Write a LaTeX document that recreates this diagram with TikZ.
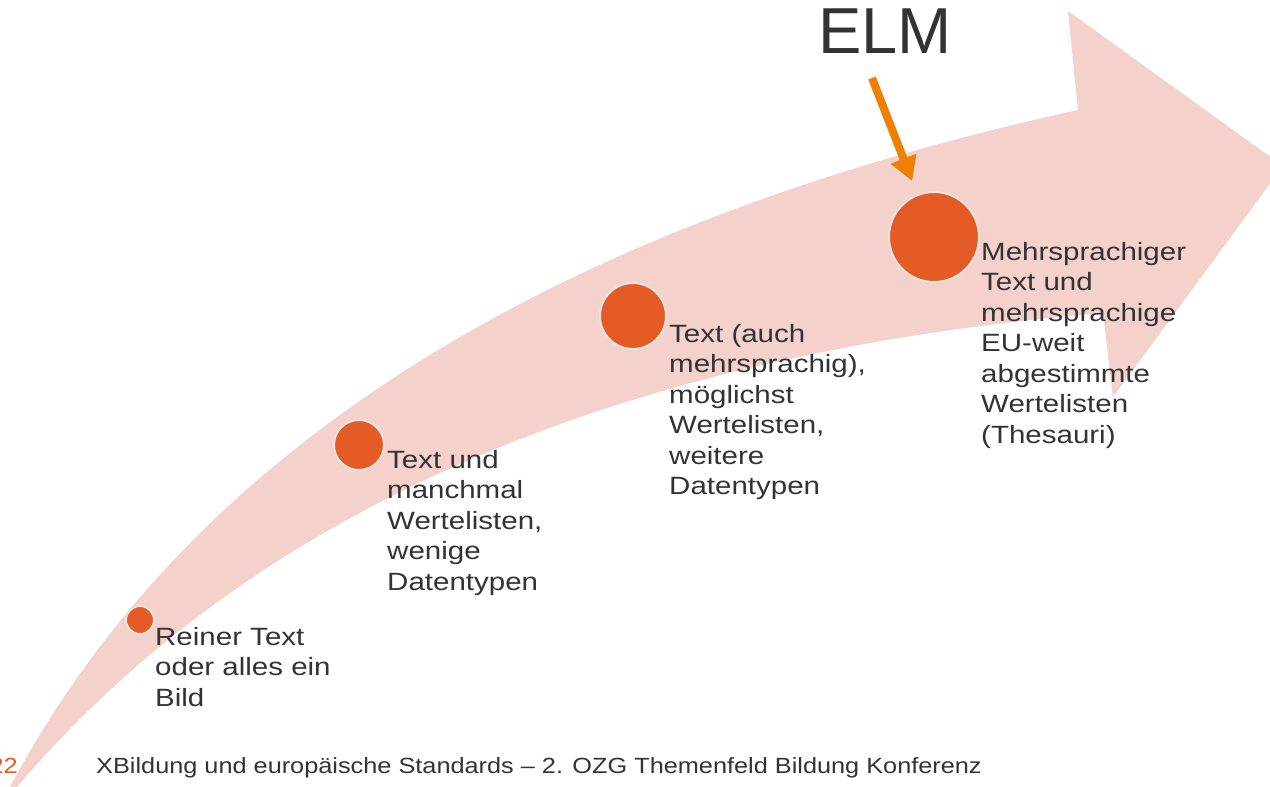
\documentclass[tikz,border=0pt]{standalone}
\usepackage{fontspec}
\setmainfont{Liberation Sans}[FakeStretch=1.15]
\newfontfamily\stagefont{Liberation Sans}[FakeStretch=1.18]
\newfontfamily\elmfont{Liberation Sans}
\usetikzlibrary{arrows.meta}
\definecolor{bandpink}{RGB}{244,209,203}
\definecolor{dotorange}{RGB}{229,91,38}
\definecolor{dotrim}{RGB}{232,228,222}
\definecolor{elmorange}{RGB}{238,127,0}
\definecolor{textgray}{RGB}{51,51,51}

\begin{document}
\begin{tikzpicture}[x=1pt,y=-1pt,
	stage/.style={circle, fill=dotorange, draw=dotrim, line width=2pt, inner sep=0pt},
	stagetext/.style={anchor=base west, align=left, inner sep=0pt, text=textgray, font=\stagefont\fontsize{25}{30.5}\selectfont},
	elmarrow/.style={draw=elmorange, line width=8pt, -{Triangle[length=24pt,width=26pt]}}]
		\useasboundingbox (0,0) rectangle (1270,787);
		
		%band
		\begin{scope}
		\clip (0,0) rectangle (1270,787);
		\fill[bandpink] (10,787) .. controls (188,453) and (544,227) .. (1078,110) -- (1068,11) -- (1283,166) -- (1113,397) -- (1103,313) .. controls (613,354) and (251,512) .. (17,787) -- cycle;
		\end{scope}
		
		%coordinates
		\coordinate (elmtail) at (872,78);
		
		%nodes
		\node[stage, minimum size=28pt] (s1) at (140,620) {};
		\node[stage, minimum size=50pt] (s2) at (359,445) {};
		\node[stage, minimum size=66pt] (s3) at (633,316) {};
		\node[stage, minimum size=90pt] (s4) at (934,237) {};
		
		% base = last line
		\node[stagetext] (t1) at (155,706) {Reiner Text\\oder alles ein\\Bild};
		\node[stagetext] (t2) at (387,590) {Text und\\manchmal\\Wertelisten,\\wenige\\Datentypen};
		\node[stagetext] (t3) at (669,494.5) {Text (auch\\mehrsprachig),\\möglichst\\Wertelisten,\\weitere\\Datentypen};
		\node[stagetext] (t4) at (981,443) {Mehrsprachiger\\Text und\\mehrsprachige\\EU-weit\\abgestimmte\\Wertelisten\\(Thesauri)};
		
		\node[anchor=base west, inner sep=0pt, text=textgray, font=\elmfont\fontsize{65}{65}\selectfont] (elm) at (818,53) {ELM};
		
		\draw[elmarrow, shorten >=14pt] (elmtail) -- (s4);
		
		%footer
		\node[anchor=base east, inner sep=0pt, text=dotorange, font=\fontsize{22}{22}\selectfont] (pagenum) at (18,773) {22};
		\node[anchor=base west, inner sep=0pt, text=textgray, font=\fontsize{22}{22}\selectfont] (footer) at (96,773) {XBildung und europäische Standards – 2. OZG Themenfeld Bildung Konferenz};
\end{tikzpicture}
\end{document}
